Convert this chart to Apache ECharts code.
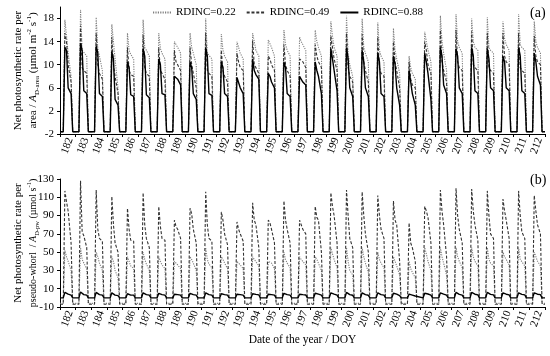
<!DOCTYPE html>
<html><head><meta charset="utf-8">
<script src="https://cdn.jsdelivr.net/npm/echarts@6/dist/echarts.min.js"></script>
<style>html,body{margin:0;padding:0;background:#fff}#c{width:550px;height:356px}</style>
</head><body><div id="c"></div><script>
// Day of year (each day: midnight at the integer value)
const days = [182,183,184,185,186,187,188,189,190,191,192,193,194,195,196,197,198,199,200,201,202,203,204,205,206,207,208,209,210,211,212];
// Hours of the vertices read for each day: sunrise, morning peak, mid-morning, noon, late afternoon, sunset
const hours = [5, 7.5, 10, 12.5, 17, 19.5];
const seriesNames = ['RDINC=0.22', 'RDINC=0.49', 'RDINC=0.88'];

// Panel (a): per-area rate, [peak, mid-morning, noon, late afternoon] per day
const areaR022 = [[17.8,15,12,8],[19.5,12.5,12.3,11.5],[18.2,12.8,11.5,9],[17,14,11,6],[15.5,12.5,11.8,11],[17.8,13,12.5,11.5],[15.5,12.8,12,11],[14,13.5,13,12],[15.5,13,12,10],[18,12,11.8,11],[15.3,12.5,11.5,10.5],[14,13,12,11],[15.5,14,12.5,11.5],[14.3,14,13,11.5],[16,13.5,12.5,11.5],[14.8,14,13.5,12.5],[16,14,13,11.5],[17.5,15,13,11.5],[18.5,12,10,8],[18,13,12,10.5],[17.3,12.5,11.5,10.5],[16.3,12.5,11,8.5],[11.5,9.5,8.5,7.5],[15.7,14,12.5,10.5],[18.5,14,12,9],[18.8,14,13,12],[18,14,13,12.5],[18.2,13,12.5,12],[17.5,14.5,13.5,12.5],[18.8,13.5,13,12.5],[17.5,14,13,12]];
const areaR049 = [[15.5,14,10,7],[16.8,9.5,9,8.5],[15.5,10,8.5,7.5],[14.8,10,8,5],[13,9,8.3,8],[15.2,9.5,8.5,8],[13,9,8.5,7.5],[12.5,10.5,10,9],[13,10,8.5,6],[15.5,9,8.5,8],[12.5,9,8,7],[12,10.5,9.5,9],[14.2,10,9.5,8.5],[11.5,11,10,9],[13.5,10,9,8],[11,10.8,10.5,9.5],[13.5,11.5,10.5,9.5],[15,13,11,9],[15.5,9.5,8,7],[15.3,10.5,9,7],[14.8,9.5,8.5,8],[14,10.5,9,6],[10.5,7.5,6.5,6],[14,12.5,10,8.5],[16,10.5,9,7],[16,10.5,9.5,9],[15.8,10,9.5,9],[15.5,9.5,9,8.5],[15.5,11.5,10.5,10],[15.5,9.5,9,8.5],[15,11.5,10.5,10]];
const areaR088 = [[13,12.5,6,5],[13.7,12.5,5.5,5],[13.2,12,5,4.5],[12.2,11,4,3],[10.5,9.5,4.8,4.5],[12.8,11.5,4.8,4.3],[11,10,5,4.8],[8,7.8,7.5,6.5],[10.5,9.5,5,4],[13,11.5,5,4.7],[10.5,9.5,5,4.5],[7.8,7.5,6,5],[11,9,8.3,7.5],[8.5,8,7,6],[10.5,9.5,5,4.5],[8,7.8,7,6.5],[10.5,9,8,5],[12.8,11,9,5.5],[13,11,6,4.5],[12.5,10.5,6,4.5],[12,10.5,5,4.5],[11.5,10,6,3],[9,7,5,3],[12,10.5,8.5,4],[13,11.5,6.5,5],[12.8,11.5,6,5],[13,11.5,5.5,5],[12.8,11,6,5.5],[11.5,10.5,6,5.5],[13,11.5,5.5,5],[12,10.5,8,6.5]];
const areaNight = [-1.6, -1.6, -1.6];

// Panel (b): per pseudo-whorl rate
const pwR022 = [[52,45,40,30],[55,42,38,32],[50,45,38,30],[45,40,30,22],[45,40,35,32],[50,42,37,30],[45,40,36,32],[40,38,36,32],[45,42,38,30],[55,42,37,33],[45,42,38,32],[40,38,36,32],[45,42,40,35],[40,40,38,32],[50,42,38,33],[45,42,40,36],[45,42,40,30],[55,48,42,33],[55,40,30,25],[55,45,38,28],[50,42,38,33],[45,40,35,25],[40,32,28,22],[55,48,40,30],[55,45,38,25],[55,45,40,33],[55,45,40,35],[55,42,38,35],[50,45,42,36],[55,42,40,35],[50,45,40,35]];
const pwR049 = [[117,105,95,60],[128,72,68,55],[118,75,65,62],[111,80,60,50],[98,75,63,62],[115,80,65,55],[100,78,65,63],[85,78,75,65],[98,92,75,60],[116,80,65,62],[94,85,70,58],[83,75,70,62],[104,85,80,55],[85,82,75,60],[106,85,75,60],[85,80,75,70],[100,88,85,50],[115,100,90,60],[118,90,65,55],[116,90,70,50],[112,90,75,65],[106,85,80,40],[82,60,55,40],[100,95,88,60],[118,95,80,45],[120,90,75,60],[119,95,80,63],[117,90,70,65],[108,95,85,65],[117,90,72,65],[112,95,80,70]];
const pwR088 = [[6,5,4,3],[6.5,5,3.5,3],[6,5,3.5,3],[5.5,4.5,3,2.5],[4.5,4,3,3],[5.5,4.5,3.5,3],[5,4.5,3.5,3],[4,3.8,3.5,3],[5,4.5,3.5,3],[5.5,4.5,3.5,3],[4.5,4,3.5,3],[4,3.8,3.5,3],[4.5,4,3.8,3.2],[4,3.8,3.5,3],[5,4.5,3.5,3],[4,3.8,3.5,3.2],[5,4.5,4,3],[5.5,5,4,3],[6,5,3.5,2.8],[5.5,4.8,3.5,2.8],[5.5,4.8,3.5,3],[5,4.5,4,2.5],[4,3.5,3,2],[5,4.8,4.2,3],[5.5,5,4,3],[6,5,3.8,3],[6,5,4,3.2],[6,5,3.8,3.2],[5.5,5,4,3.3],[5.5,4.8,3.8,3.2],[5.5,5,4,3.5]];
const pwNight = [-6, -7, 0];

// y-axis tick labels
const yTicksA = [-2, 2, 6, 10, 14, 18];
const yTicksB = [-10, 10, 30, 50, 70, 90, 110, 130];

function build(vals, night) {
  const out = [[days[0], night]];
  vals.forEach((v, i) => {
    const d = days[i];
    out.push([d + hours[0] / 24, night]);
    out.push([d + hours[1] / 24, v[0]]);
    out.push([d + hours[2] / 24, v[1]]);
    out.push([d + hours[3] / 24, v[2]]);
    out.push([d + hours[4] / 24, v[3]]);
    out.push([d + hours[5] / 24, night]);
  });
  out.push([days[days.length - 1] + 1, night]);
  return out;
}

const FONT = 'Liberation Serif';
const styles = [
  { color: '#808080', width: 1.1, type: [1.2, 1.2] },
  { color: '#333333', width: 1.1, type: [3, 1.8] },
  { color: '#000000', width: 1.4, type: 'solid' }
];

function xAxis(gridIndex, withName) {
  const ax = {
    type: 'value', gridIndex, min: days[0], max: days[days.length - 1] + 1,
    axisLine: { show: true, onZero: false, lineStyle: { color: '#000', width: 1 } },
    axisTick: { show: true, length: 3, customValues: days.concat([days[days.length - 1] + 1]), lineStyle: { color: '#000' } },
    axisLabel: {
      customValues: days.map(d => d + 0.65), rotate: 70, margin: 4,
      formatter: v => String(Math.floor(v + 1e-6)), fontFamily: FONT, fontSize: 11, color: '#000'
    },
    splitLine: { show: false }
  };
  if (withName) {
    ax.name = 'Date of the year / DOY';
    ax.nameLocation = 'middle';
    ax.nameGap = 27;
    ax.nameMoveOverlap = false;
    ax.nameTextStyle = { fontFamily: FONT, fontSize: 11.5, color: '#000' };
  }
  return ax;
}

const rich = {
  it: { fontStyle: 'italic', fontFamily: FONT, fontSize: 11, color: '#000' },
  sub: { fontFamily: FONT, fontSize: 7, color: '#000', verticalAlign: 'bottom', padding: [4, 0, 0, 0] },
  sup: { fontFamily: FONT, fontSize: 7, color: '#000', verticalAlign: 'top' },
  l2: { fontFamily: FONT, fontSize: 10, color: '#000' },
  it2: { fontStyle: 'italic', fontFamily: FONT, fontSize: 10, color: '#000' },
  sub2: { fontFamily: FONT, fontSize: 6.5, color: '#000', verticalAlign: 'bottom', padding: [4, 0, 0, 0] },
  sup2: { fontFamily: FONT, fontSize: 6.5, color: '#000', verticalAlign: 'top' }
};

function yAxis(gridIndex, min, max, ticks, name) {
  return {
    type: 'value', gridIndex, min, max,
    axisLine: { show: true, onZero: false, lineStyle: { color: '#000', width: 1 } },
    axisTick: { show: true, length: 3, inside: false, customValues: ticks, lineStyle: { color: '#000' } },
    axisLabel: { customValues: ticks, margin: 6, fontFamily: FONT, fontSize: 11, color: '#000' },
    splitLine: { show: false },
    name, nameLocation: 'middle', nameRotate: 90, nameGap: 19, nameMoveOverlap: false,
    nameTextStyle: { fontFamily: FONT, fontSize: 11, color: '#000', lineHeight: 15, align: 'center', rich }
  };
}

const areaSets = [areaR022, areaR049, areaR088];
const pwSets = [pwR022, pwR049, pwR088];
const series = [];
for (let k = 0; k < 3; k++) {
  series.push({
    name: seriesNames[k], type: 'line', xAxisIndex: 0, yAxisIndex: 0, symbol: 'none', z: 2 + k,
    data: build(areaSets[k], areaNight[k]), lineStyle: styles[k], itemStyle: { color: styles[k].color }, animation: false
  });
}
for (let k = 0; k < 3; k++) {
  series.push({
    name: seriesNames[k], type: 'line', xAxisIndex: 1, yAxisIndex: 1, symbol: 'none', z: 2 + k,
    data: build(pwSets[k], pwNight[k]), lineStyle: styles[k], itemStyle: { color: styles[k].color }, animation: false
  });
}

const chart = echarts.init(document.getElementById('c'), null, { renderer: 'canvas' });
chart.setOption({
  animation: false,
  backgroundColor: '#fff',
  legend: {
    data: seriesNames, left: 147, top: 2, itemWidth: 18, itemHeight: 10, itemGap: 10,
    itemStyle: { opacity: 0 },
    textStyle: { fontFamily: FONT, fontSize: 11, color: '#000' }
  },
  grid: [
    { left: 60, right: 5, top: 7, height: 127 },
    { left: 60, right: 5, top: 179, height: 128 }
  ],
  xAxis: [xAxis(0, false), xAxis(1, true)],
  yAxis: [
    yAxis(0, -2, 20, yTicksA, 'Net photosynthetic rate per\narea / {it|A}{sub|D-area} (\u00b5mol m{sup|-2} s{sup|-1})'),
    yAxis(1, -10, 130, yTicksB, 'Net photosynthetic rate per\n{l2|pseudo-whorl  / }{it2|A}{sub2|D-pw}{l2| (\u00b5mol s}{sup2|-1}{l2|)}')
  ],
  graphic: [
    { type: 'text', left: 530, top: 6, style: { text: '(a)', font: '14px "Liberation Serif"', fill: '#000' } },
    { type: 'text', left: 530, top: 173, style: { text: '(b)', font: '14px "Liberation Serif"', fill: '#000' } }
  ],
  series
});
</script></body></html>
